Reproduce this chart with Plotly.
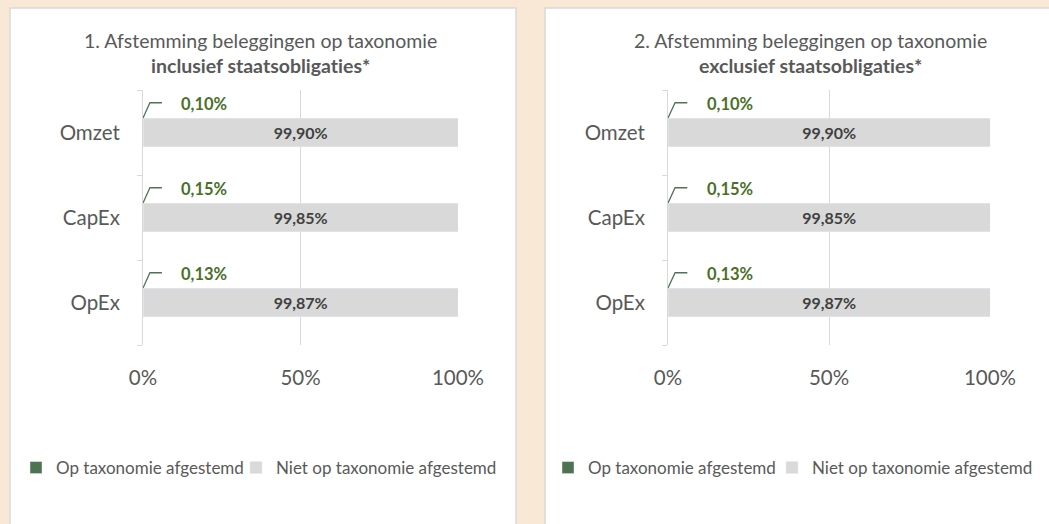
import plotly.graph_objects as go

# data
categories = ["Omzet", "CapEx", "OpEx"]
aligned_incl = [0.10, 0.15, 0.13]
not_aligned_incl = [99.90, 99.85, 99.87]
aligned_excl = [0.10, 0.15, 0.13]
not_aligned_excl = [99.90, 99.85, 99.87]
x_ticks = [0, 50, 100]
x_tick_text = ["0%", "50%", "100%"]
series_names = ["Op taxonomie afgestemd", "Niet op taxonomie afgestemd"]
titles = [
    "1. Afstemming beleggingen op taxonomie<br><b>inclusief staatsobligaties*</b>",
    "2. Afstemming beleggingen op taxonomie<br><b>exclusief staatsobligaties*</b>",
]

W, H = 1049, 524
FONT = "Lato"
TXT = "#595959"
GREEN = "#4E7352"
GREEN_TXT = "#4A6F27"
GREY = "#D9D9D9"
BG = "#FAE8D7"


def pct(v):
    return f"{v:.2f}".replace(".", ",") + "%"


ypos = list(range(len(categories)))[::-1]  # Omzet at top
BAR_W = 0.34

fig = go.Figure()

panels = [
    dict(xa="x", ya="y", legends=("legend", "legend2"), aligned=aligned_incl, rest=not_aligned_incl),
    dict(xa="x2", ya="y2", legends=("legend3", "legend4"), aligned=aligned_excl, rest=not_aligned_excl),
]

for p in panels:
    fig.add_trace(go.Bar(
        x=p["aligned"], y=ypos, orientation="h", width=BAR_W,
        name=series_names[0], marker_color=GREEN, legend=p["legends"][0],
        xaxis=p["xa"], yaxis=p["ya"], hoverinfo="skip",
    ))
    fig.add_trace(go.Bar(
        x=p["rest"], y=ypos, orientation="h", width=BAR_W,
        name=series_names[1], marker_color=GREY, legend=p["legends"][1],
        text=[f"<b>{pct(v)}</b>" for v in p["rest"]],
        textposition="inside", insidetextanchor="middle",
        textfont=dict(family=FONT, size=16, color="#404040"),
        xaxis=p["xa"], yaxis=p["ya"], hoverinfo="skip",
    ))
    # leader lines for the tiny aligned values
    lx, ly = [], []
    for y, v in zip(ypos, p["aligned"]):
        lx += [v * 0, 2.2, 6.0, None]
        ly += [y + BAR_W / 2, y + 0.35, y + 0.35, None]
    fig.add_trace(go.Scatter(
        x=lx, y=ly, mode="lines", line=dict(color=GREEN, width=1.3),
        showlegend=False, hoverinfo="skip", xaxis=p["xa"], yaxis=p["ya"],
    ))
    for y, v in zip(ypos, p["aligned"]):
        fig.add_annotation(
            x=11.5, y=y + 0.34, xref=p["xa"], yref=p["ya"], xanchor="left", yanchor="middle",
            text=f"<b>{pct(v)}</b>", showarrow=False,
            font=dict(family=FONT, size=16.5, color=GREEN_TXT),
        )

# panel backgrounds
for x0, x1 in [(10, 516), (545, 1070)]:
    fig.add_shape(type="rect", xref="paper", yref="paper", layer="below",
                  x0=x0 / W, x1=x1 / W, y0=-0.1, y1=1 - 8 / H,
                  fillcolor="white", line=dict(color=GREY, width=1.5))

# titles
for cx, t in zip([260, 810], titles):
    fig.add_annotation(x=cx / W, y=1 - 53 / H, xref="paper", yref="paper",
                       text=t, showarrow=False, xanchor="center", yanchor="middle",
                       font=dict(family=FONT, size=19.5, color=TXT))

ydom = [1 - 345 / H, 1 - 90 / H]
xaxis_common = dict(range=[0, 100], tickvals=x_ticks, ticktext=x_tick_text,
                    showgrid=True, gridcolor=GREY, gridwidth=1, zeroline=False,
                    showline=False, ticks="", ticklabelstandoff=18, automargin=False,
                    tickfont=dict(family=FONT, size=20.5, color=TXT), fixedrange=True)
yaxis_common = dict(range=[-0.5, len(categories) - 0.5], tickvals=ypos, ticktext=categories,
                    showgrid=False, zeroline=False, showline=True, linecolor=GREY, linewidth=1,
                    ticks="", ticklabelstandoff=18, automargin=False,
                    minor=dict(tickvals=[i - 0.5 for i in range(len(categories) + 1)],
                               ticks="outside", ticklen=5, tickcolor=GREY, showgrid=False),
                    tickfont=dict(family=FONT, size=20.5, color=TXT), fixedrange=True)

legend_common = dict(orientation="h", xanchor="left", yanchor="middle", y=1 - 468 / H,
                     bgcolor="rgba(0,0,0,0)", itemwidth=30,
                     font=dict(family=FONT, size=17, color=TXT))

fig.update_layout(
    width=W, height=H,
    margin=dict(l=0, r=0, t=0, b=0, autoexpand=False),
    paper_bgcolor=BG, plot_bgcolor="rgba(0,0,0,0)",
    barmode="stack", bargap=0.66,
    xaxis=dict(domain=[143 / W, 458 / W], anchor="y", **xaxis_common),
    yaxis=dict(domain=ydom, anchor="x", **yaxis_common),
    xaxis2=dict(domain=[668 / W, 990 / W], anchor="y2", **xaxis_common),
    yaxis2=dict(domain=ydom, anchor="x2", **yaxis_common),
    legend=dict(x=16 / W, **legend_common),
    legend2=dict(x=236 / W, **legend_common),
    legend3=dict(x=548 / W, **legend_common),
    legend4=dict(x=772 / W, **legend_common),
    showlegend=True,
)

# no page margin / scrollbars so the figure fills the window exactly; no "ti" ligatures
fix_page = (
    "var st=document.createElement('style');"
    "st.textContent='body{margin:0;overflow:hidden}"
    " svg text{font-variant-ligatures:none !important;font-feature-settings:\"liga\" 0 !important}';"
    "document.head.appendChild(st);"
    "var gd=document.getElementById('{plot_id}');"
    "Plotly.relayout(gd,{width:1049,height:524});"
)
fig.write_html("out.html", config={"responsive": False, "displayModeBar": False},
               post_script=fix_page)
